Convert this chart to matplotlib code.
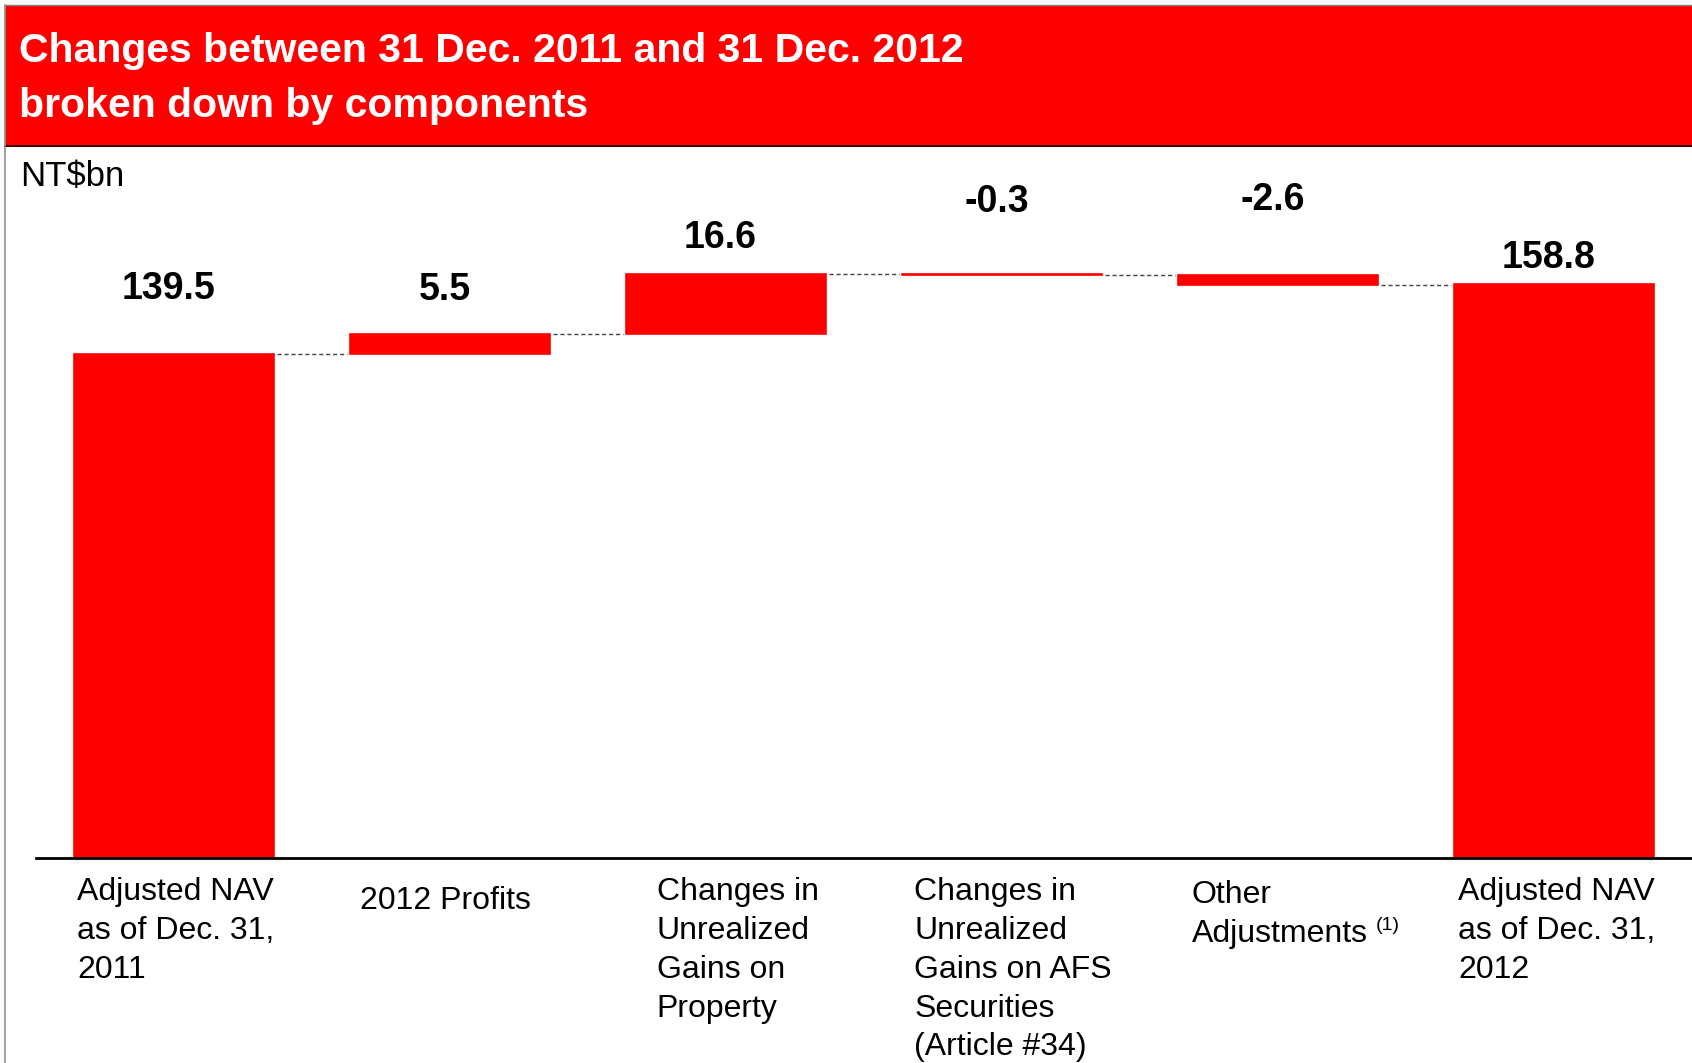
import matplotlib
matplotlib.use("Agg")
import matplotlib.pyplot as plt
from matplotlib.patches import Rectangle
from matplotlib.lines import Line2D

plt.rcParams['font.family'] = ['Liberation Sans', 'DejaVu Sans']

# NAV walk, NT$bn
categories = ["Adjusted NAV\nas of Dec. 31,\n2011",
              "2012 Profits",
              "Changes in\nUnrealized\nGains on\nProperty",
              "Changes in\nUnrealized\nGains on AFS\nSecurities\n(Article #34)",
              "Other\nAdjustments",
              "Adjusted NAV\nas of Dec. 31,\n2012"]
values = [139.5, 5.5, 16.6, -0.3, -2.6, 158.8]
value_labels = ["139.5", "5.5", "16.6", "-0.3", "-2.6", "158.8"]
is_total = [True, False, False, False, False, True]

RED = "#ff0000"
W, H = 1692, 1063
fig = plt.figure(figsize=(W / 100, H / 100), dpi=100)

# red title band
fig.add_artist(Rectangle((5 / W, 1 - 146 / H), 1, 141 / H, transform=fig.transFigure,
                         facecolor=RED, edgecolor="none"))
fig.add_artist(Line2D([5 / W, 1], [1 - 5 / H] * 2, transform=fig.transFigure,
                      color="#808080", lw=1))
fig.add_artist(Line2D([5 / W, 1], [1 - 146 / H] * 2, transform=fig.transFigure,
                      color="#400000", lw=1.5))
fig.add_artist(Line2D([5 / W] * 2, [0, 1 - 5 / H], transform=fig.transFigure,
                      color="#909090", lw=1.2))
fig.text(19 / W, 1 - 51 / H, "Changes between 31 Dec. 2011 and 31 Dec. 2012",
         color="white", fontsize=29.5, fontweight="bold", va="center", ha="left")
fig.text(19 / W, 1 - 106 / H, "broken down by components",
         color="white", fontsize=29.5, fontweight="bold", va="center", ha="left")
fig.text(20 / W, 1 - 177 / H, "NT$bn", fontsize=25, va="center", ha="left")

ax = fig.add_axes([36 / W, 1 - 858 / H, (W - 36) / W, (858 - 147) / H])
ax.set_xlim(-0.5, 5.5)
ax.set_ylim(0, 196.8)
for s in ["top", "right", "left"]:
    ax.spines[s].set_visible(False)
ax.spines["bottom"].set_linewidth(2)
ax.spines["bottom"].set_color("black")
ax.set_xticks([])
ax.set_yticks([])

# floating bars
bottoms, heights = [], []
running = 0.0
for v, tot in zip(values, is_total):
    if tot:
        bottoms.append(0)
        heights.append(v)
        running = v
    else:
        bottoms.append(running)
        heights.append(v)
        running += v
x = list(range(len(values)))
width = 0.725
ax.bar(x, heights, bottom=bottoms, width=width, color=RED, edgecolor=RED, linewidth=1.2)

# dashed connectors at the running level
for i in range(len(values) - 1):
    level = bottoms[i] + heights[i]
    ax.plot([i + width / 2 + 0.01, i + 1 - width / 2 - 0.01], [level, level],
            color="#444444", lw=1, linestyle=(0, (3, 2)))

# value labels above each bar
label_gap = [47, 32, 26, 52, 54, 19]
for i in x:
    top = max(bottoms[i], bottoms[i] + heights[i])
    ax.annotate(value_labels[i], (i, top), xytext=(-4, label_gap[i]),
                textcoords="offset points", ha="center", va="center",
                fontsize=27, fontweight="bold")

# category names under the axis
name_dx = [2.5, 7, 22, 9, 10, 3]
name_dy = [-14, -20, -14, -14, -16, -14]
names = []
for i in x:
    names.append(ax.annotate(categories[i], (i - width / 2, 0),
                             xytext=(name_dx[i], name_dy[i]),
                             textcoords="offset points", ha="left", va="top",
                             fontsize=23, linespacing=1.38, annotation_clip=False))

# footnote marker after "Adjustments"
ax.annotate("(1)", xy=(1, 0), xycoords=names[4], xytext=(6, 11),
            textcoords="offset points", ha="left", va="bottom", fontsize=14)

fig.savefig("out.png", dpi=100)
